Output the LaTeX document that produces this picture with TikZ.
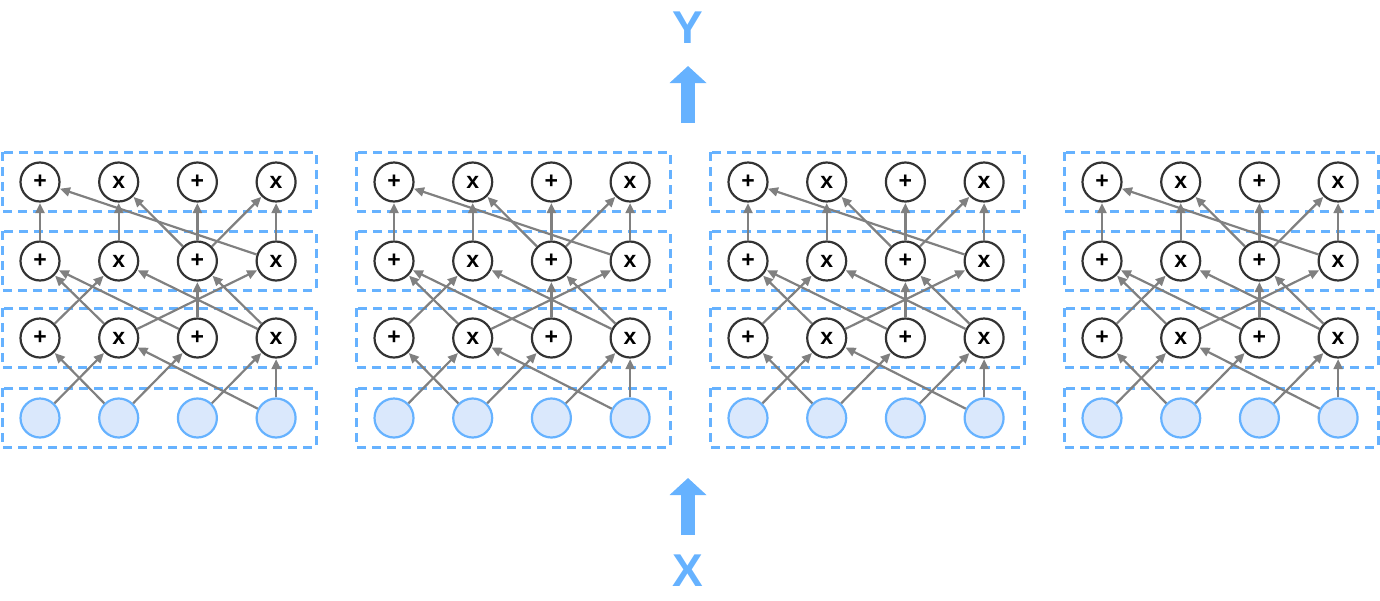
\documentclass[tikz,border=0pt]{standalone}
\usepackage{fontspec}
\setmainfont{Liberation Sans}
\usetikzlibrary{arrows.meta}

\definecolor{dashblue}{HTML}{66B2FF}
\definecolor{inblue}{HTML}{DAE8FC}
\definecolor{edgegray}{HTML}{808080}
\definecolor{opline}{HTML}{333333}

\tikzset{
	op/.style={circle,draw=opline,line width=2.2pt,fill=white,minimum size=39pt,inner sep=0pt,font=\fontsize{23}{23}\selectfont\bfseries},
	inp/.style={circle,draw=dashblue,line width=2.2pt,fill=inblue,minimum size=39pt,inner sep=0pt},
	layerbox/.style={draw=dashblue,line width=3pt,dash pattern=on 9pt off 6pt},
	link/.style={draw=edgegray,line width=2.2pt,-{Triangle[length=10pt,width=9pt]},shorten >=0.5pt},
	bigarrow/.style={draw=dashblue,line width=14pt,-{Triangle[length=17pt,width=36pt]}},
	biglabel/.style={text=dashblue,font=\fontsize{46}{46}\selectfont\bfseries,inner sep=0pt}
}

\begin{document}
\begin{tikzpicture}[x=1pt,y=-1pt]
\useasboundingbox (0,0) rectangle (1380,600);
% four identical blocks
\foreach \b/\bx in {1/40,2/394,3/748,4/1102} {
	\foreach \yc in {182,261,338,418} {
		\draw[layerbox] ({\bx-38},\yc-30) rectangle ({\bx+276},\yc+29);
	}
	\foreach \c in {1,...,4} {
		\node[inp] (in-\b-\c) at ({\bx+78.7*(\c-1)},418) {};
	}
	\foreach \r/\yr in {1/338,2/261,3/182} {
		\foreach \c/\t in {1/+,2/x,3/+,4/x} {
			\node[op] (op-\b-\r-\c) at ({\bx+78.7*(\c-1)},\yr) {\t};
		}
	}
	% inputs to first layer
	\foreach \s/\t in {1/2,2/1,2/3,3/4,4/4,4/2} {
		\draw[link] (in-\b-\s) -- (op-\b-1-\t);
	}
	% first layer to second layer
	\foreach \s/\t in {1/2,2/1,2/4,3/1,3/3,4/2,4/3} {
		\draw[link] (op-\b-1-\s) -- (op-\b-2-\t);
	}
	% second layer to top layer
	\foreach \s/\t in {1/1,4/1,2/2,3/2,3/3,3/4,4/4} {
		\draw[link] (op-\b-2-\s) -- (op-\b-3-\t);
	}
}
% input and output
\node[biglabel] (ylab) at (688,28) {Y};
\node[biglabel] (xlab) at (688,571) {X};
\coordinate (ybot) at (688,123);
\coordinate (ytip) at (688,66);
\coordinate (xbot) at (688,535);
\coordinate (xtip) at (688,478);
\draw[bigarrow] (ybot) -- (ytip);
\draw[bigarrow] (xbot) -- (xtip);
\end{tikzpicture}
\end{document}
